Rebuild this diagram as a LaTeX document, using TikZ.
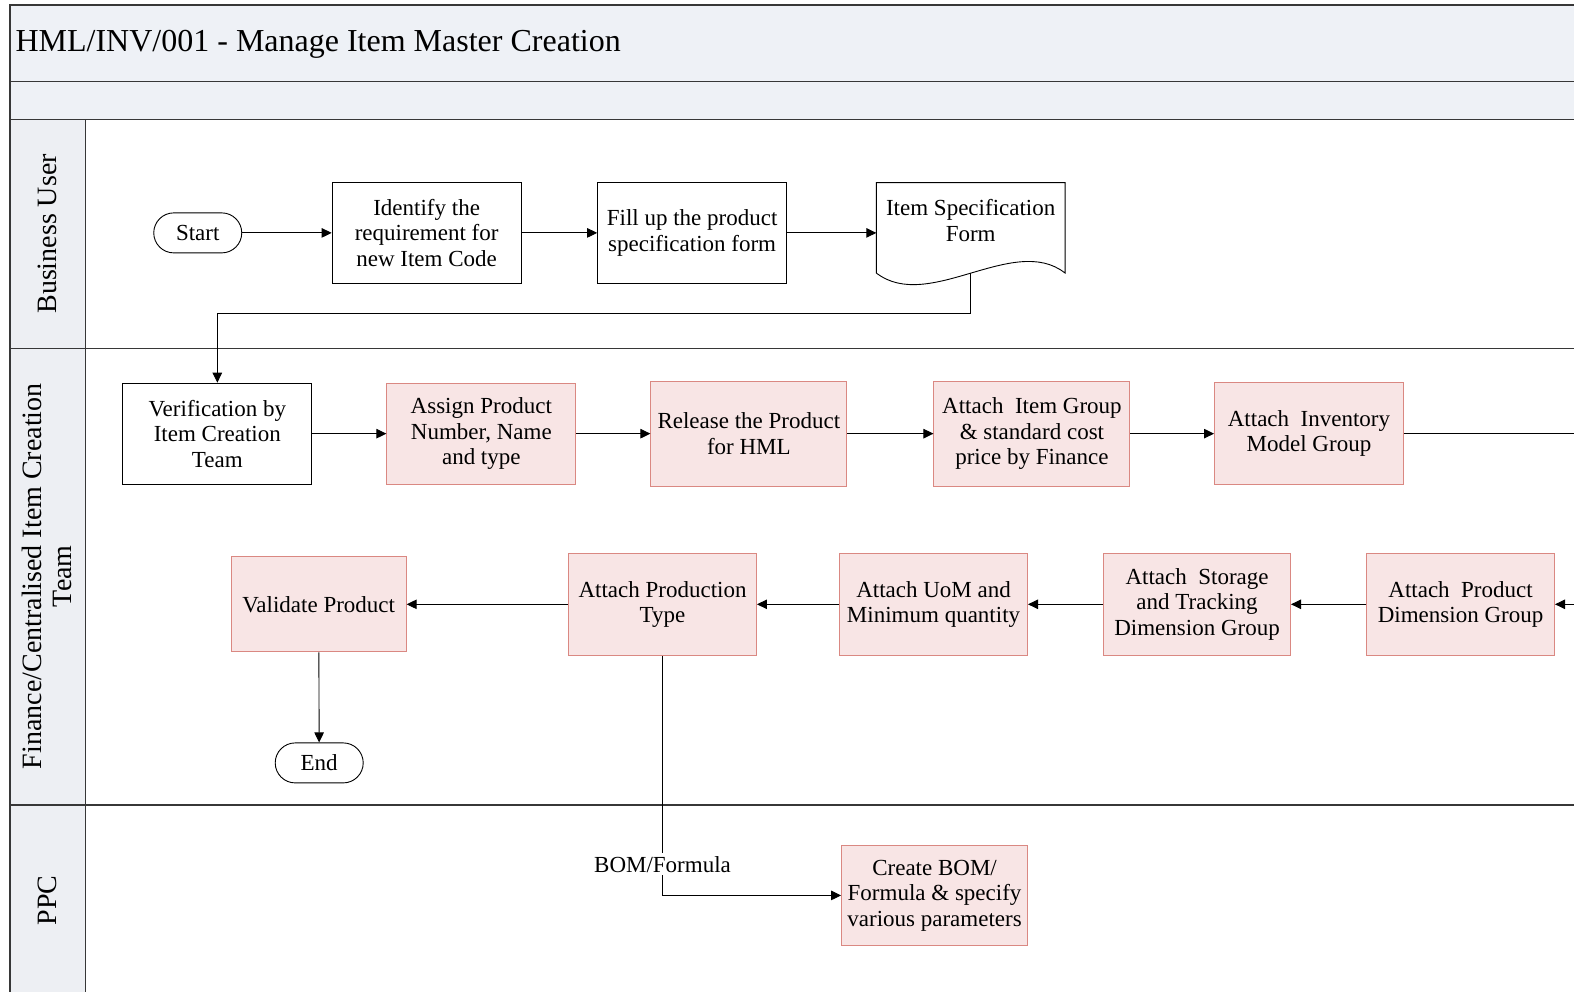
\documentclass[tikz,border=0pt]{standalone}
\usepackage{fontspec}
\setmainfont{Liberation Serif}
\usetikzlibrary{arrows.meta,calc}
\definecolor{bandfill}{RGB}{238,241,246}
\definecolor{headfill}{RGB}{237,239,243}
\definecolor{framecol}{RGB}{55,55,55}
\definecolor{pinkfill}{RGB}{248,229,229}
\definecolor{pinkline}{RGB}{218,136,130}
\newcommand\flowfont{\fontsize{23}{25.5}\selectfont}
\newcommand\lanefont{\fontsize{28}{30}\selectfont}
\newcommand\titlefont{\fontsize{32}{36}\selectfont}
\begin{document}
\begin{tikzpicture}[x=1.0038pt,y=-1.0038pt,
  frame/.style={draw=framecol,line width=1.2pt},
  box/.style={draw=black,line width=0.9pt,fill=white,align=center,inner sep=1pt,font=\flowfont,
    minimum width=189pt,minimum height=101pt},
  task/.style={box,draw=pinkline,fill=pinkfill},
  term/.style={draw=black,line width=0.9pt,fill=white,rounded corners=20pt,inner sep=1pt,
    minimum width=88pt,minimum height=40pt,font=\flowfont},
  arr/.style={-{Triangle[length=10pt,width=9.5pt]},line width=0.9pt},
  line/.style={line width=0.9pt},
  lane/.style={rotate=90,align=center,font=\lanefont}]
\useasboundingbox (0,0) rectangle (1568,988);

% pool frame, header bands and lane separators
\fill[bandfill] (10,5) rectangle (1570,119);
\fill[headfill] (10,119) rectangle (85,990);
\draw[frame] (1570,5) -- (10,5) -- (10,990);
\draw[frame] (10,81) -- (1570,81);
\draw[frame] (10,119) -- (1570,119);
\draw[frame] (85,119) -- (85,990);
\draw[frame] (10,347) -- (1570,347);
\draw[frame] (10,802) -- (1570,802);

\node[anchor=west,font=\titlefont] (title) at (12,44) {HML/INV/001 - Manage Item Master Creation};

\node[lane] (laneA) at (47,233) {Business User};
\node[lane] (laneB) at (47,574) {Finance/Centralised Item Creation\\Team};
\node[lane] (laneC) at (47,897) {PPC};

% Business User lane
\node[term] (start) at (197,232) {Start};
\node[box] (ident) at (425,232) {Identify the\\requirement for\\new Item Code};
\node[box] (fillup) at (689.5,232) {Fill up the product\\specification form};
\draw[line,fill=white] (873,182) -- (1061,182) -- (1061,272)
  .. controls (1010,232) and (925,312) .. (873,272) -- cycle;
\node[align=center,font=\flowfont,inner sep=1pt,minimum width=186pt] (doc) at (967,219.5) {Item Specification\\Form};
\coordinate (docin) at (873,232);
\coordinate (docout) at (967,272);

% Finance / Centralised Item Creation Team lane
\node[box] (verif) at (216.5,432) {Verification by\\Item Creation\\Team};
\node[task] (assign) at (479.5,432) {Assign Product\\Number, Name\\and type};
\node[task,minimum width=196pt,minimum height=105pt] (release) at (746,432) {Release the Product\\for HML};
\node[task,minimum width=196pt,minimum height=105pt] (itemgrp) at (1028,432) {Attach\ \ Item Group\\\& standard cost\\price by Finance};
\node[task,minimum height=102pt] (invent) at (1304,432) {Attach\ \ Inventory\\Model Group};
\coordinate (outR) at (1570,432);
\coordinate (inR) at (1570,602);

\node[task,minimum width=188pt,minimum height=102pt] (proddim) at (1455,602) {Attach\ \ Product\\Dimension Group};
\node[task,minimum width=187pt,minimum height=102pt] (storage) at (1192.5,602) {Attach\ \ Storage\\and Tracking\\Dimension Group};
\node[task,minimum width=188pt,minimum height=102pt] (uom) at (930,602) {Attach UoM and\\Minimum quantity};
\node[task,minimum width=188pt,minimum height=102pt] (prodtype) at (660,602) {Attach Production\\Type};
\node[task,minimum width=175pt,minimum height=95pt] (validate) at (317.5,602) {Validate Product};
\node[term] (end) at (318,760) {End};

% PPC lane
\node[task,minimum width=186pt,minimum height=100pt] (bom) at (931,892) {Create BOM/\\Formula \& specify\\various parameters};

% connectors
\draw[arr] (start) -- (ident);
\draw[arr] (ident) -- (fillup);
\draw[arr] (fillup) -- (docin);
\draw[arr] (docout) -- ++(0,40) -| (verif.north);
\draw[arr] (verif) -- (assign);
\draw[arr] (assign) -- (release);
\draw[arr] (release) -- (itemgrp);
\draw[arr] (itemgrp) -- (invent);
\draw[line] (invent) -- (outR);
\draw[arr] (inR) -- (proddim);
\draw[arr] (proddim) -- (storage);
\draw[arr] (storage) -- (uom);
\draw[arr] (uom) -- (prodtype);
\draw[arr] (prodtype) -- (validate);
\draw[arr] (validate) -- (end);
\draw[arr] (prodtype.south) |- (bom.west);
\node[fill=white,font=\flowfont,inner sep=3pt] (bomlabel) at (660,861) {BOM/Formula};
\end{tikzpicture}
\end{document}
